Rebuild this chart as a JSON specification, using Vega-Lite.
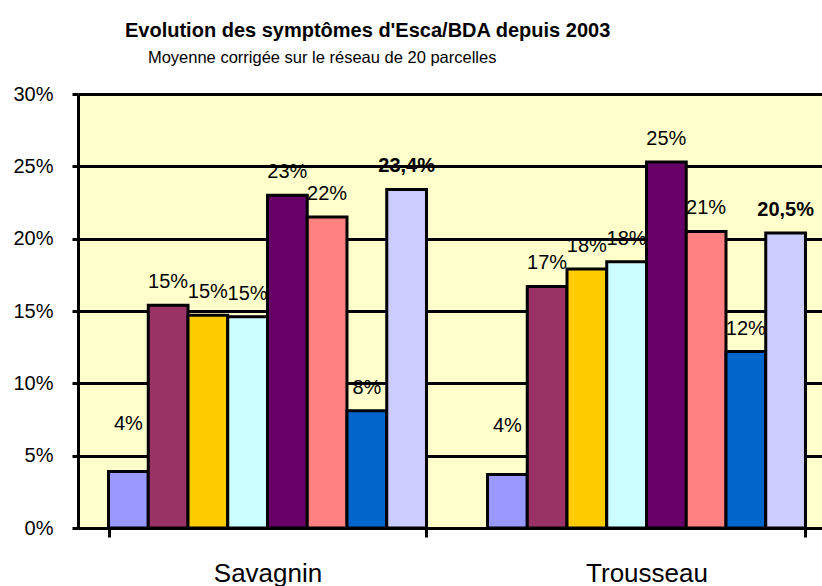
{
  "$schema": "https://vega.github.io/schema/vega-lite/v6.json",
  "width": 758,
  "height": 434,
  "padding": {"left": 12, "top": 20, "right": 0, "bottom": 0},
  "background": "white",
  "title": {
    "text": "Evolution des symptômes d'Esca/BDA depuis 2003",
    "subtitle": "\u200b\u00a0\u00a0\u00a0\u00a0\u00a0Moyenne corrigée sur le réseau de 20 parcelles",
    "anchor": "start",
    "frame": "group",
    "dx": 47,
    "font": "Liberation Sans",
    "fontSize": 20,
    "fontWeight": "bold",
    "color": "black",
    "subtitleFont": "Liberation Sans",
    "subtitleFontSize": 16.5,
    "subtitleColor": "black",
    "subtitlePadding": 9,
    "offset": 18
  },
  "config": {
    "view": {"fill": "#FFFFCC", "stroke": null},
    "axis": {
      "domainColor": "black",
      "domainWidth": 3,
      "tickColor": "black",
      "tickWidth": 3,
      "labelColor": "black",
      "labelFont": "Liberation Sans",
      "title": null
    }
  },
  "data": {
    "values": [
      {"cepage": "Savagnin", "annee": "2003", "valeur": 0.039, "label": "4%"},
      {"cepage": "Savagnin", "annee": "2004", "valeur": 0.154, "label": "15%"},
      {"cepage": "Savagnin", "annee": "2005", "valeur": 0.147, "label": "15%"},
      {"cepage": "Savagnin", "annee": "2006", "valeur": 0.146, "label": "15%"},
      {"cepage": "Savagnin", "annee": "2007", "valeur": 0.230, "label": "23%"},
      {"cepage": "Savagnin", "annee": "2008", "valeur": 0.215, "label": "22%"},
      {"cepage": "Savagnin", "annee": "2009", "valeur": 0.081, "label": "8%"},
      {"cepage": "Savagnin", "annee": "2010", "valeur": 0.234, "label": "23,4%"},
      {"cepage": "Trousseau", "annee": "2003", "valeur": 0.037, "label": "4%"},
      {"cepage": "Trousseau", "annee": "2004", "valeur": 0.167, "label": "17%"},
      {"cepage": "Trousseau", "annee": "2005", "valeur": 0.179, "label": "18%"},
      {"cepage": "Trousseau", "annee": "2006", "valeur": 0.184, "label": "18%"},
      {"cepage": "Trousseau", "annee": "2007", "valeur": 0.253, "label": "25%"},
      {"cepage": "Trousseau", "annee": "2008", "valeur": 0.205, "label": "21%"},
      {"cepage": "Trousseau", "annee": "2009", "valeur": 0.122, "label": "12%"},
      {"cepage": "Trousseau", "annee": "2010", "valeur": 0.204, "label": "20,5%"}
    ]
  },
  "encoding": {
    "x": {
      "field": "cepage",
      "type": "nominal",
      "sort": ["Savagnin", "Trousseau"],
      "scale": {"paddingInner": 0.161, "paddingOuter": 0.0805},
      "axis": {
        "labelAngle": 0,
        "labelFontSize": 26,
        "labelPadding": 23,
        "tickSize": 9,
        "tickBand": "extent",
        "grid": false
      }
    },
    "xOffset": {
      "field": "annee",
      "type": "nominal",
      "scale": {"paddingInner": 0, "paddingOuter": 0}
    },
    "y": {
      "field": "valeur",
      "type": "quantitative",
      "scale": {"domain": [0, 0.3], "nice": false},
      "axis": {
        "format": ".0%",
        "values": [0, 0.05, 0.1, 0.15, 0.2, 0.25, 0.3],
        "labelFontSize": 20,
        "labelPadding": 19,
        "tickSize": 6,
        "grid": true,
        "gridColor": "black",
        "gridWidth": 3
      }
    }
  },
  "layer": [
    {
      "mark": {"type": "bar", "stroke": "black", "strokeWidth": 3},
      "encoding": {
        "color": {
          "field": "annee",
          "type": "nominal",
          "scale": {
            "domain": ["2003", "2004", "2005", "2006", "2007", "2008", "2009", "2010"],
            "range": ["#9999FF", "#993366", "#FFCC00", "#CCFFFF", "#660066", "#FF8080", "#0066CC", "#CCCCFF"]
          },
          "legend": null
        },
        "opacity": {"value": 1}
      }
    },
    {
      "transform": [{"filter": "datum.annee != '2010' && datum.valeur >= 0.05"}],
      "mark": {"type": "text", "baseline": "middle", "dy": -23, "font": "Liberation Sans", "fontSize": 20, "color": "black"},
      "encoding": {"text": {"field": "label"}}
    },
    {
      "transform": [{"filter": "datum.valeur < 0.05"}],
      "mark": {"type": "text", "baseline": "middle", "dy": -48, "font": "Liberation Sans", "fontSize": 20, "color": "black"},
      "encoding": {"text": {"field": "label"}}
    },
    {
      "transform": [{"filter": "datum.annee == '2010'"}],
      "mark": {"type": "text", "baseline": "middle", "dy": -23, "font": "Liberation Sans", "fontSize": 20, "fontWeight": "bold", "color": "black"},
      "encoding": {"text": {"field": "label"}}
    }
  ]
}
